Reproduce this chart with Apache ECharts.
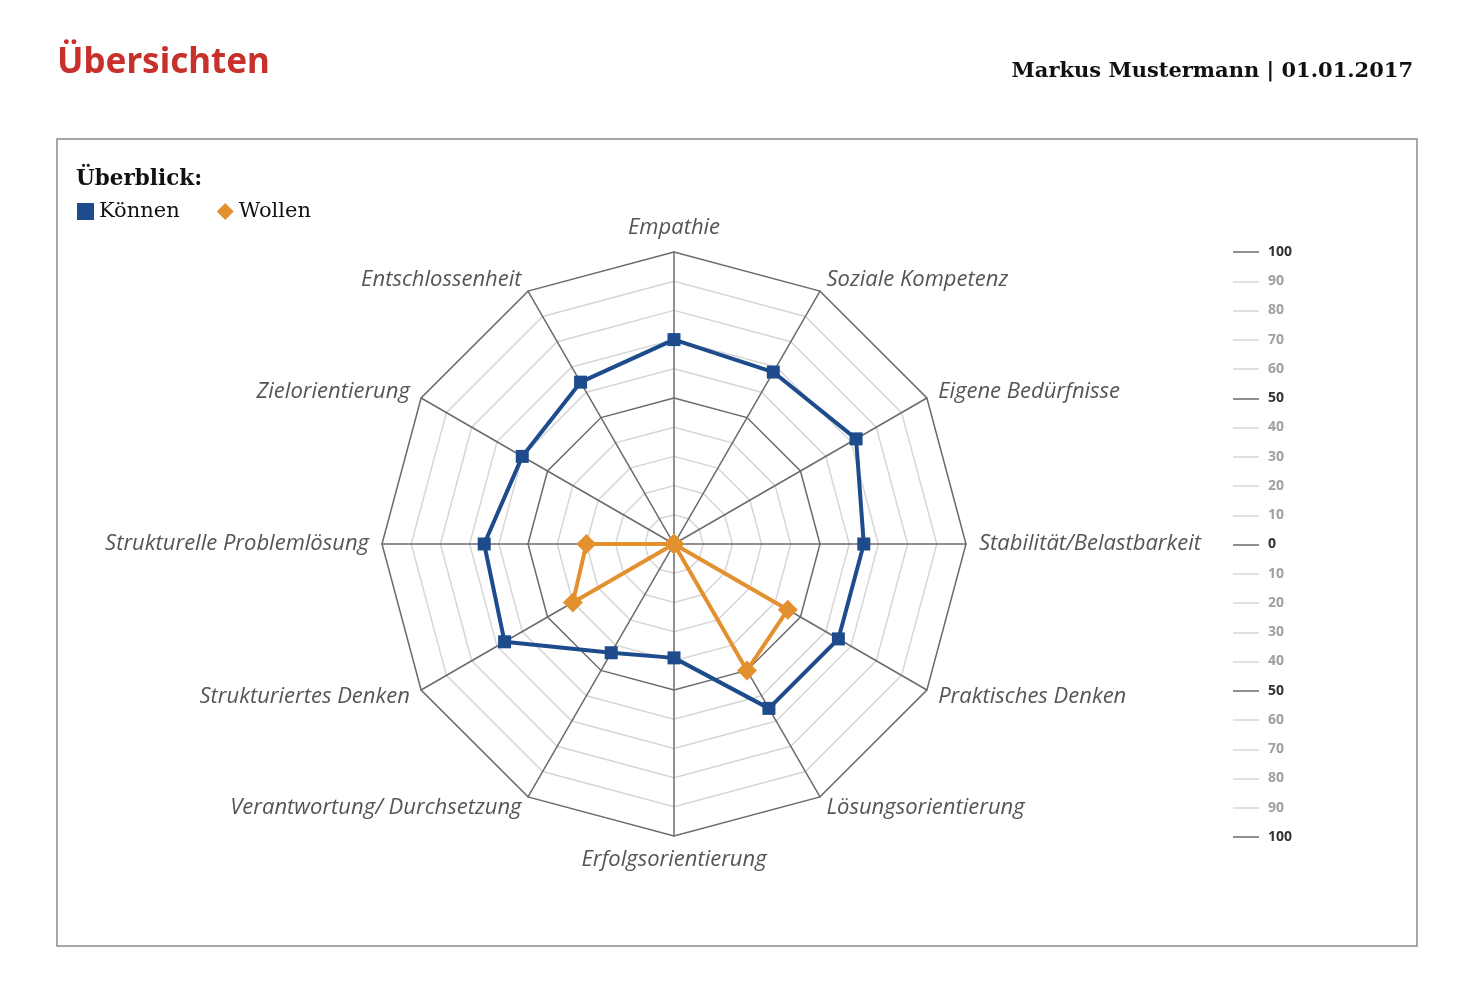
<!DOCTYPE html>
<html><head><meta charset="utf-8">
<script src="https://cdn.jsdelivr.net/npm/echarts@6/dist/echarts.min.js"></script>
<style>html,body{margin:0;padding:0;background:#fff}#c{width:1472px;height:992px}</style>
</head><body><div id="c"></div>
<script>
// Categories in clockwise order starting at the top
const categories = ['Empathie','Soziale Kompetenz','Eigene Bedürfnisse','Stabilität/Belastbarkeit','Praktisches Denken','Lösungsorientierung','Erfolgsorientierung','Verantwortung/ Durchsetzung','Strukturiertes Denken','Strukturelle Problemlösung','Zielorientierung','Entschlossenheit'];
const koennen = [70, 68, 72, 65, 65, 65, 39, 43, 67, 65, 60, 64];
const wollen  = [0, 0, 0, 0, 45, 50, 0, 0, 40, 30, 0, 0];
const scaleTicks = [-100,-90,-80,-70,-60,-50,-40,-30,-20,-10,0,10,20,30,40,50,60,70,80,90,100];

// ECharts radar places indicators counterclockwise; reorder so they read clockwise
const order = categories.map((_, i) => (categories.length - i) % categories.length);
const ind = order.map(i => ({ name: categories[i], min: 0, max: 100 }));
const kData = order.map(i => koennen[i]);
const wData = order.map(i => wollen[i]);

const DARK = '#6b6b6b', LIGHT = '#d6d6d6';
const chart = echarts.init(document.getElementById('c'));
chart.setOption({
  animation: false,
  title: [
    { text: 'Übersichten', left: 52, top: 41, textStyle: { fontFamily: 'Noto Sans', fontWeight: 'bold', fontSize: 35, color: '#c8302c' } },
    { text: 'Markus Mustermann | 01.01.2017', right: 54, top: 56, textStyle: { fontFamily: 'DejaVu Serif', fontWeight: 'bold', fontSize: 21, color: '#111' } },
    { text: 'Überblick:', left: 71, top: 163, textStyle: { fontFamily: 'DejaVu Serif', fontWeight: 'bold', fontSize: 21.5, color: '#111' } }
  ],
  graphic: [
    { type: 'rect', shape: { x: 57, y: 139, width: 1360, height: 807 }, style: { fill: 'none', stroke: '#8a8a8a', lineWidth: 1.5 }, silent: true }
  ],
  legend: {
    left: 77, top: 201, padding: 0, itemGap: 37, itemWidth: 17, itemHeight: 17,
    textStyle: { fontFamily: 'DejaVu Serif', fontSize: 21, color: '#111' },
    data: [{ name: 'Können', icon: 'rect' }, { name: 'Wollen', icon: 'diamond' }]
  },
  radar: {
    center: [674, 544], radius: 292, startAngle: 90, splitNumber: 10,
    indicator: ind,
    axisName: { color: '#555', fontFamily: 'Open Sans', fontStyle: 'italic', fontSize: 22 },
    nameGap: 13,
    axisLine: { lineStyle: { color: DARK, width: 1.5 } },
    splitLine: { lineStyle: { color: [DARK, LIGHT, LIGHT, LIGHT, LIGHT, DARK, LIGHT, LIGHT, LIGHT, LIGHT], width: 1.5 } },
    splitArea: { show: false },
    axisTick: { show: false }, axisLabel: { show: false }
  },
  grid: { left: 1233, width: 26, top: 252, height: 585 },
  xAxis: { type: 'value', show: false, min: 0, max: 1 },
  yAxis: {
    type: 'value', min: -100, max: 100, interval: 10, position: 'right',
    axisLine: { show: false }, axisTick: { show: false },
    splitLine: { show: true, lineStyle: { width: 1.5, color: [DARK, LIGHT, LIGHT, LIGHT, LIGHT] } },
    axisLabel: {
      margin: 9, align: 'left',
      formatter: v => { const a = Math.abs(v); return (a % 50 === 0) ? '{d|' + a + '}' : '{l|' + a + '}'; },
      rich: {
        d: { fontFamily: 'Open Sans', fontWeight: 'bold', fontSize: 14, color: '#333' },
        l: { fontFamily: 'Open Sans', fontWeight: 'bold', fontSize: 14, color: '#a0a0a0' }
      }
    },
    data: scaleTicks
  },
  series: [
    { name: 'Können', type: 'radar', symbol: 'rect', symbolSize: 13,
      itemStyle: { color: '#1d4b8c' }, lineStyle: { width: 4, color: '#1d4b8c' },
      data: [{ value: kData, name: 'Können' }], z: 3 },
    { name: 'Wollen', type: 'radar', symbol: 'diamond', symbolSize: 20,
      itemStyle: { color: '#e3912f' }, lineStyle: { width: 4, color: '#e3912f' },
      data: [{ value: wData, name: 'Wollen' }], z: 2 }
  ]
});
</script></body></html>
